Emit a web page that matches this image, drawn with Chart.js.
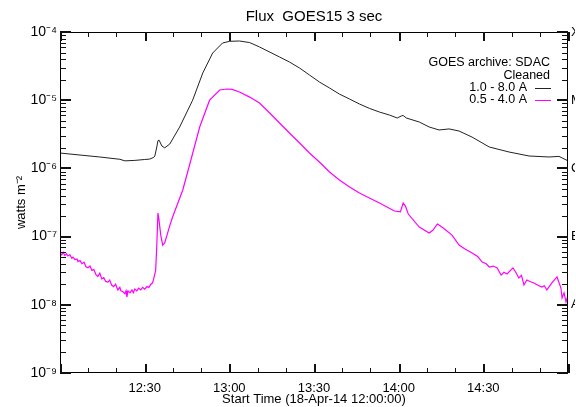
<!DOCTYPE html>
<html>
<head>
<meta charset="utf-8">
<script src="https://cdn.jsdelivr.net/npm/chart.js@4"></script>
<style>
  html, body { margin: 0; padding: 0; background: #fff; }
  #wrap { width: 576px; height: 407px; }
</style>
</head>
<body>
<div id="wrap"><canvas id="goesChart" width="576" height="407"></canvas></div>
<script>
// minutes after 12:00 on 18-Apr-14
const longTimes = [0, 7.1, 14.1, 21.2, 23, 26.5, 30, 31.8, 33.2, 33.6, 34.3, 34.7, 35.1, 36.1, 37.1, 38.9,
  42.4, 47.0, 50.6, 54.1, 57.6, 60.1, 63.6, 67.2, 70.7, 77.8, 81.3, 84.9, 88.4, 91.9, 95.5, 99.0, 102.6,
  106.1, 109.6, 113.2, 116.7, 119.5, 120.9, 121.6, 122.7, 127.3, 130.8, 134.3, 137.9, 141.4, 146.0,
  152.1, 159.1, 166.2, 173.3, 176.8, 180];
const longFlux = [1.68e-6, 1.57e-6, 1.47e-6, 1.36e-6, 1.29e-6, 1.31e-6, 1.35e-6, 1.37e-6, 1.45e-6, 1.52e-6,
  2.06e-6, 2.55e-6, 2.6e-6, 2.13e-6, 2.0e-6, 2.28e-6,
  4.05e-6, 1.0e-5, 2.51e-5, 4.92e-5, 6.9e-5, 7.3e-5, 7.38e-5, 7.0e-5, 6.03e-5, 4.3e-5, 3.63e-5, 2.96e-5,
  2.34e-5, 1.85e-5, 1.51e-5, 1.23e-5, 1.04e-5, 8.8e-6, 7.6e-6, 6.7e-6, 6.07e-6,
  5.48e-6, 5.86e-6, 5.97e-6, 5.48e-6, 4.79e-6, 4.05e-6, 3.66e-6, 3.79e-6, 3.53e-6, 2.88e-6,
  2.06e-6, 1.74e-6, 1.52e-6, 1.47e-6, 1.5e-6, 1.29e-6];

const shortTimes = [0, 0.6, 1.1, 1.7, 2.3, 2.8, 3.5, 4.2, 4.6, 5.3, 6.0, 6.4, 7.1, 7.8, 8.5, 9.2, 9.9, 10.6,
  11.3, 12.0, 12.7, 13.4, 14.1, 14.8, 15.5, 16.2, 17.0, 17.6, 18.3, 19.0, 19.7, 20.5, 21.2, 21.6,
  22.3, 23.0, 23.4, 23.7, 24.1, 24.8, 25.5, 26.0, 26.5, 27.2, 27.9, 28.6, 29.3, 30.0, 30.8, 31.5,
  32.2, 32.8, 33.2, 33.9, 34.3, 34.7, 35.0, 35.7, 36.4, 37.1, 38.9, 39.9, 43.5, 46.0, 49.5, 53.0,
  56.6, 59.1, 61.0, 63.6, 67.2, 70.7, 74.3, 77.8, 81.3, 84.9, 88.4, 91.9, 95.5, 99.0, 102.6, 106.1,
  109.6, 113.2, 118.5, 120.6, 121.6, 122.4, 123.4, 127.3, 130.8, 132.2, 133.7, 134.3, 136.1, 138.9,
  141.4, 143.5, 146.0, 148.0, 149.6, 151.0, 152.1, 153.5, 154.9, 156.3, 157.3, 158.4, 160.5, 161.5,
  162.6, 163.5, 164.4, 165.4, 166.5, 167.9, 169.2, 170.7, 171.6, 172.5, 174.3, 176.1, 177.5, 177.9,
  178.6, 179.3, 180];
const shortFlux = [5.75e-8, 5.4e-8, 5.9e-8, 5.3e-8, 5.6e-8, 5.2e-8, 5.4e-8, 4.8e-8, 5.0e-8, 4.6e-8, 4.7e-8, 4.3e-8,
  4.45e-8, 4.0e-8, 4.2e-8, 3.6e-8, 3.5e-8, 3.7e-8, 3.2e-8, 3.3e-8, 2.8e-8, 2.6e-8, 2.9e-8, 2.4e-8, 2.5e-8,
  2.2e-8, 2.15e-8, 2.3e-8, 1.95e-8, 1.85e-8, 2.0e-8, 1.65e-8, 1.8e-8, 1.6e-8, 1.55e-8, 1.45e-8, 1.6e-8,
  1.3e-8, 1.6e-8, 1.5e-8, 1.65e-8, 1.5e-8, 1.7e-8, 1.6e-8, 1.75e-8, 1.65e-8, 1.8e-8, 1.7e-8, 1.85e-8,
  1.8e-8, 2.0e-8, 2.1e-8, 2.4e-8, 3.2e-8, 7.5e-8, 2.22e-7, 1.87e-7, 1.05e-7, 7.5e-8, 8.05e-8, 1.45e-7,
  1.94e-7, 4.82e-7, 1.16e-6, 4.05e-6, 1.0e-5, 1.41e-5, 1.46e-5, 1.44e-5, 1.32e-5, 1.11e-5, 9.1e-6,
  6.49e-6, 4.63e-6, 3.3e-6, 2.36e-6, 1.68e-6, 1.24e-6, 8.86e-7, 6.76e-7, 5.33e-7, 4.36e-7,
  3.68e-7, 3.11e-7, 2.37e-7, 2.3e-7, 3.11e-7, 2.8e-7, 2.14e-7, 1.38e-7, 1.13e-7, 1.25e-7, 1.53e-7, 1.48e-7,
  1.3e-7, 1.05e-7, 7.5e-8, 6.6e-8, 5.75e-8, 5.1e-8, 4.24e-8, 4.0e-8, 3.58e-8, 3.7e-8, 3.47e-8, 2.73e-8,
  3.0e-8, 2.83e-8, 3.47e-8, 3.0e-8, 2.47e-8, 2.7e-8, 1.95e-8, 2.31e-8, 2.2e-8, 2.09e-8, 1.95e-8, 1.82e-8,
  1.9e-8, 1.65e-8, 2.09e-8, 2.56e-8, 1.76e-8, 1.26e-8, 1.5e-8, 1.1e-8, 1.39e-8];

const timeLabels = { 30: '12:30', 60: '13:00', 90: '13:30', 120: '14:00', 150: '14:30' };
const classLetters = { '-4': 'X', '-5': 'M', '-6': 'C', '-7': 'B', '-8': 'A' };

const SUP = { '-': '\u207B', '0': '\u2070', '1': '\u00B9', '2': '\u00B2', '3': '\u00B3', '4': '\u2074',
  '5': '\u2075', '6': '\u2076', '7': '\u2077', '8': '\u2078', '9': '\u2079' };
const sup = s => String(s).split('').map(c => SUP[c] || c).join('');
const decadeOf = v => {
  const e = Math.log10(v);
  return Math.abs(e - Math.round(e)) < 1e-6 ? Math.round(e) : null;
};

const FONT = "'Liberation Sans', Arial, sans-serif";
Chart.defaults.font.family = FONT;
Chart.defaults.color = '#000';

function logTicks(scale) {
  const ticks = [];
  for (let e = -9; e <= -4; e++) {
    for (let m = 1; m <= 9; m++) {
      const v = m * Math.pow(10, e);
      if (v > 1.0001e-4) break;
      ticks.push({ value: v });
    }
  }
  scale.ticks = ticks;
}

// IDL style frame with inward ticks and the text inside the plot
const framePlugin = {
  id: 'frame',
  afterDraw(chart) {
    const ctx = chart.ctx;
    const a = chart.chartArea;
    const xs = chart.scales.x;
    const ys = chart.scales.y;
    const L = Math.round(a.left), R = Math.round(a.right);
    const T = Math.round(a.top), B = Math.round(a.bottom);
    ctx.save();
    ctx.fillStyle = '#000';
    ctx.fillRect(L, T, R - L, 1);
    ctx.fillRect(L, B - 1, R - L, 1);
    ctx.fillRect(L, T, 1, B - T);
    ctx.fillRect(R - 1, T, 1, B - T);

    ctx.fillStyle = '#111';
    for (let t = 0; t <= 180; t += 10) {
      const x = Math.round(xs.getPixelForValue(t));
      const major = t % 30 === 0;
      const len = major ? 9 : 5;
      const w = major ? 2 : 1;
      ctx.fillRect(x, B - len, w, len);
      ctx.fillRect(x, T, w, len);
    }
    ys.ticks.forEach(tk => {
      const y = Math.round(ys.getPixelForValue(tk.value));
      const major = decadeOf(tk.value) !== null;
      const len = major ? 11 : 6;
      const w = major ? 2 : 1;
      ctx.fillRect(L, y - (w - 1), len, w);
      ctx.fillRect(R - len, y - (w - 1), len, w);
    });

    ctx.fillStyle = '#000';
    ctx.font = '15px ' + FONT;
    ctx.textAlign = 'center';
    ctx.textBaseline = 'middle';
    ctx.fillText('Flux  GOES15 3 sec', (a.left + a.right) / 2, 17);

    ctx.font = '12.5px ' + FONT;
    ctx.textAlign = 'right';
    ctx.fillText('GOES archive: SDAC', 550, 63);
    ctx.fillText('Cleaned', 550, 76);
    ctx.fillText('1.0 - 8.0 A', 527, 88);
    ctx.fillText('0.5 - 4.0 A', 527, 100);
    ctx.fillStyle = '#222';
    ctx.fillRect(535, 88, 16, 1);
    ctx.fillStyle = '#ff00ff';
    ctx.fillRect(535, 100, 16, 1);
    ctx.restore();
  }
};

new Chart(document.getElementById('goesChart'), {
  type: 'line',
  data: {
    datasets: [
      {
        label: '1.0 - 8.0 A',
        data: longTimes.map((t, i) => ({ x: t, y: longFlux[i] })),
        borderColor: '#222',
        borderWidth: 1,
        pointRadius: 0,
        tension: 0
      },
      {
        label: '0.5 - 4.0 A',
        data: shortTimes.map((t, i) => ({ x: t, y: shortFlux[i] })),
        borderColor: '#ff00ff',
        borderWidth: 1.2,
        pointRadius: 0,
        tension: 0
      }
    ]
  },
  options: {
    responsive: false,
    animation: false,
    layout: { padding: { top: 32, left: 0, right: 0, bottom: 0 } },
    plugins: {
      legend: { display: false },
      title: { display: false },
      tooltip: { enabled: false }
    },
    scales: {
      x: {
        type: 'linear',
        min: 0,
        max: 180,
        afterFit: s => { s.height = 34; },
        grid: { display: false, drawTicks: false },
        border: { display: false },
        ticks: {
          stepSize: 10,
          autoSkip: false,
          maxRotation: 0,
          padding: 8,
          font: { size: 13 },
          callback: v => timeLabels[v] || ''
        },
        title: {
          display: true,
          text: 'Start Time (18-Apr-14 12:00:00)',
          font: { size: 13 },
          padding: { top: 0, bottom: 0 }
        }
      },
      y: {
        type: 'logarithmic',
        min: 1e-9,
        max: 1e-4,
        afterBuildTicks: logTicks,
        afterFit: s => { s.width = 60; },
        grid: { display: false, drawTicks: false },
        border: { display: false },
        ticks: {
          autoSkip: false,
          padding: 3,
          font: { size: 14 },
          callback: v => {
            const e = decadeOf(v);
            return e === null ? '' : '10' + sup(e);
          }
        },
        title: {
          display: true,
          text: 'watts m' + sup(-2),
          font: { size: 13 },
          padding: { top: 14, bottom: 0 }
        }
      },
      y2: {
        type: 'logarithmic',
        position: 'right',
        min: 1e-9,
        max: 1e-4,
        afterBuildTicks: logTicks,
        afterFit: s => { s.width = 7; },
        grid: { display: false, drawTicks: false },
        border: { display: false },
        ticks: {
          autoSkip: false,
          padding: 3,
          font: { size: 13 },
          callback: v => {
            const e = decadeOf(v);
            return e === null ? '' : (classLetters[e] || '');
          }
        }
      }
    }
  },
  plugins: [framePlugin]
});
</script>
</body>
</html>
